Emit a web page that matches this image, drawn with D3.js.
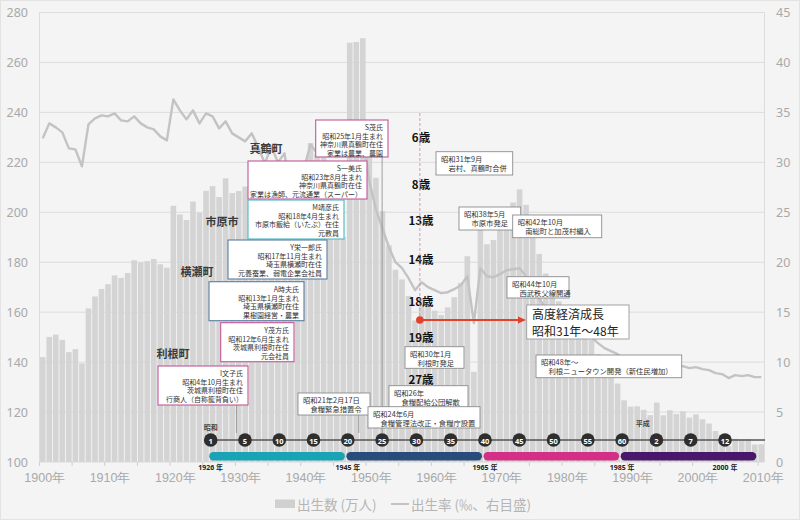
<!DOCTYPE html>
<html><head><meta charset="utf-8">
<script src="https://cdn.jsdelivr.net/npm/d3@7"></script>
<style>
html,body{margin:0;padding:0;background:#f4f4f4;}
svg{display:block;font-family:"Noto Sans","Noto Sans CJK JP",sans-serif;}
.jp{font-family:"Noto Sans CJK JP","Noto Sans",sans-serif;}
</style></head><body><svg id="c" width="800" height="520"></svg>
<script>
// ---------- data ----------
const years = d3.range(1900, 2011);
const births = [
 142.0,150.1,151.0,148.9,144.0,145.2,139.5,161.5,166.3,169.3,
 171.2,174.7,173.7,175.7,180.8,179.9,180.4,181.3,179.2,177.8,
 202.6,199.1,196.9,204.3,199.8,208.6,210.5,206.1,213.6,207.7,
 208.5,210.3,218.3,212.1,204.4,219.1,210.2,218.1,192.8,190.2,
 211.6,227.7,223.4,225.3,215.0,190.0,190.0,267.9,268.2,269.7,
 233.8,213.8,200.5,186.8,177.0,173.1,166.5,156.7,165.3,162.6,
 160.6,158.9,161.9,166.0,171.7,182.4,136.1,193.6,187.2,188.9,
 193.4,200.1,203.9,209.2,203.0,190.1,183.3,175.5,170.9,164.3,
 157.7,152.9,151.5,150.9,149.0,143.2,138.3,134.7,131.4,124.7,
 122.2,122.3,120.9,118.8,123.8,118.7,120.7,119.2,120.3,117.8,
 119.1,117.1,115.4,112.4,111.1,106.3,109.3,109.0,109.1,107.0,107.1];
const rates = [
 32.4,33.9,33.5,33.0,31.4,31.3,29.6,33.8,34.4,34.7,
 34.6,34.9,34.2,34.1,34.6,33.9,33.5,33.3,32.6,32.2,
 36.3,35.2,34.3,35.2,33.9,34.9,34.6,33.4,34.1,32.9,
 32.5,32.1,32.9,31.5,29.9,31.6,30.0,30.9,27.2,26.6,
 29.4,31.8,30.9,30.9,null,null,null,34.3,33.5,33.0,
 28.1,25.3,23.4,21.5,20.0,19.4,18.4,17.2,18.0,17.5,
 17.2,16.9,17.0,17.3,17.7,18.6,13.9,19.4,18.6,18.5,
 18.8,19.2,19.3,19.4,18.6,17.1,16.3,15.5,14.9,14.2,
 13.6,13.0,12.8,12.7,12.5,11.9,11.4,11.1,10.8,10.2,
 10.0,9.9,9.8,9.6,10.0,9.6,9.7,9.5,9.6,9.4,
 9.5,9.3,9.2,8.9,8.8,8.4,8.7,8.6,8.7,8.5,8.5];
const leftTicks = [100,120,140,160,180,200,220,240,260,280];
const rightTicks = [0,5,10,15,20,25,30,35,40,45];
const xLabelYears = [1900,1910,1920,1930,1940,1950,1960,1970,1980,1990,2000,2010];
const eraLabels = ["1","5","10","15","20","25","30","35","40","45","50","55","60","2","7","12"];
const eraYearLabels = ["1926 年","1945 年","1965 年","1985 年","2000 年"];
const legendBars = "出生数 (万人)";
const legendLine = "出生率 (‰、右目盛)";

// ---------- layout ----------
const svg = d3.select("#c");
const L = 39, R = 765, B = 462, T = 12.5;
svg.append("rect").attr("x",0.5).attr("y",0.5).attr("width",799).attr("height",519)
  .attr("fill","#f4f4f4").attr("stroke","#e3e3e3");

const x = d3.scaleBand().domain(years).range([L, R]).padding(0.14);
const bw = x.bandwidth();
const yL = d3.scaleLinear().domain([100,280]).range([B, T]);
const yR = d3.scaleLinear().domain([0,45]).range([B, T]);

// grid
svg.append("g").selectAll("line").data(leftTicks).join("line")
  .attr("x1",L).attr("x2",764).attr("y1",d=>yL(d)).attr("y2",d=>yL(d))
  .attr("stroke","#dcdcdc").attr("stroke-width",1);
svg.append("line").attr("x1",L+0.5).attr("x2",L+0.5).attr("y1",T).attr("y2",B).attr("stroke","#dcdcdc");
svg.append("line").attr("x1",764.5).attr("x2",764.5).attr("y1",T).attr("y2",B).attr("stroke","#dcdcdc");

// left axis
const gl = svg.append("g").attr("transform",`translate(${L},0)`)
  .call(d3.axisLeft(yL).tickValues(leftTicks).tickSize(0).tickPadding(11));
gl.select(".domain").remove();
gl.selectAll("text").attr("fill","#a9a9a9").attr("font-size","12.5px").attr("font-family","'Noto Sans',sans-serif");
// right axis
const gr = svg.append("g").attr("transform",`translate(764,0)`)
  .call(d3.axisRight(yR).tickValues(rightTicks).tickSize(0).tickPadding(12));
gr.select(".domain").remove();
gr.selectAll("text").attr("fill","#a9a9a9").attr("font-size","12.5px").attr("font-family","'Noto Sans',sans-serif");
// bottom axis
const gb = svg.append("g").attr("transform",`translate(2,${B})`)
  .call(d3.axisBottom(x).tickValues(xLabelYears).tickSize(0).tickPadding(11).tickFormat(d=>d+"年"));
gb.select(".domain").remove();
gb.selectAll("text").attr("fill","#a9a9a9").attr("font-size","12.5px");
const tickYears = years.filter(y=>y%5===0);
svg.append("g").selectAll("line").data(tickYears).join("line")
  .attr("x1",d=>x(d)-(x.step()-bw)/2).attr("x2",d=>x(d)-(x.step()-bw)/2)
  .attr("y1",B).attr("y2",B+4).attr("stroke","#cfcfcf");

// bars
svg.append("g").selectAll("rect").data(years.map((y,i)=>({y,v:births[i]}))).join("rect")
  .attr("x",d=>x(d.y)).attr("y",d=>yL(d.v)).attr("width",bw).attr("height",d=>B-yL(d.v))
  .attr("fill","#d4d4d4");

// line
const line = d3.line().defined(d=>d.r!=null).x(d=>x(d.y)+bw/2).y(d=>yR(d.r));
svg.append("path").datum(years.map((y,i)=>({y,r:rates[i]})))
  .attr("d",line).attr("fill","none").attr("stroke","#c3c3c3").attr("stroke-width",2.4)
  .attr("stroke-linejoin","round");

// ---------- timeline ----------
const TY = 440;
const tl = d3.scaleLinear().domain([0,15]).range([210.7,725]);
const showaIdx = n => n<5 ? (n-1)/4 : 1+(n-5)/5;

// connectors (behind boxes)
const connectors = [[showaIdx(4),405],[showaIdx(25),157],[showaIdx(21.6),415]];
svg.append("g").selectAll("line").data(connectors).join("line")
  .attr("x1",d=>tl(d[0])).attr("x2",d=>tl(d[0])).attr("y1",d=>d[1]).attr("y2",TY-7)
  .attr("stroke","#8a8a8a").attr("stroke-width",0.8);

// ---------- annotation boxes ----------
const PINK="#c4579a", BLUE="#5b7d9e", TEAL="#4db8c4";
const persons = [
 {b:[315.7,120,388,157], c:PINK, t:["S茂氏","昭和25年1月生まれ","神奈川県真鶴町在住","家業は農業、農園"]},
 {b:[248,161,367,199], c:PINK, t:["S一美氏","昭和23年8月生まれ","神奈川県真鶴町在住","家業は漁師、元流通業（スーパー）"]},
 {b:[248,200,344,239], c:TEAL, t:["M靖彦氏","昭和18年4月生まれ","市原市飯給（いたぶ）在住","元教員"]},
 {b:[228,240,327,279], c:BLUE, t:["Y栄一郎氏","昭和17年11月生まれ","埼玉県横瀬町在住","元養蚕業、弱電企業会社員"]},
 {b:[209,281.7,304,320.7], c:BLUE, t:["A時夫氏","昭和13年1月生まれ","埼玉県横瀬町在住","果樹園経営・農業"]},
 {b:[220.7,322.7,294,361.7], c:PINK, t:["Y茂方氏","昭和12年6月生まれ","茨城県利根町在住","元会社員"]},
 {b:[158,366,248,405], c:PINK, t:["I文子氏","昭和4年10月生まれ","茨城県利根町在住","行商人（自称籠背負い）"]}
];
const events = [
 {b:[436,151.7,512.7,175], t:["昭和31年9月","岩村、真鶴町合併"]},
 {b:[459,207,520.7,230], t:["昭和38年5月","市原市発足"]},
 {b:[512.7,215,601.7,237.7], t:["昭和42年10月","南総町と加茂村編入"]},
 {b:[507,276.7,569,298], t:["昭和44年10月","西武秩父線開通"]},
 {b:[536,355,681.7,377.7], t:["昭和48年～","利根ニュータウン開発（新住民増加）"]},
 {b:[405,346.7,464,368.3], t:["昭和30年1月","利根町発足"]},
 {b:[389,385.7,468,408], t:["昭和26年","食糧配給公団解散"]},
 {b:[298,393,370,415], t:["昭和21年2月17日","食糧緊急措置令"]},
 {b:[368,406.7,480,428], t:["昭和24年6月","食糧管理法改正・食糧庁設置"]}
];
const ga = svg.append("g").attr("class","jp");
persons.forEach(p=>{
  const [x0,y0,x1,y1]=p.b;
  ga.append("rect").attr("x",x0).attr("y",y0).attr("width",x1-x0).attr("height",y1-y0)
    .attr("fill","#fff").attr("stroke",p.c).attr("stroke-width",1.1);
  p.t.forEach((s,i)=>ga.append("text").attr("x",x1-5).attr("y",y0+7.4+i*8.5)
    .attr("dominant-baseline","central").attr("text-anchor","end")
    .attr("font-size","7px").attr("fill","#333").text(s));
});
events.forEach(e=>{
  const [x0,y0,x1,y1]=e.b;
  ga.append("rect").attr("x",x0).attr("y",y0).attr("width",x1-x0).attr("height",y1-y0)
    .attr("fill","#fff").attr("stroke","#8c8c8c").attr("stroke-width",0.9);
  e.t.forEach((s,i)=>ga.append("text").attr("x",x0+5+i*7.5).attr("y",y0+6.8+i*9.4)
    .attr("dominant-baseline","central").attr("font-size","7.3px").attr("fill","#333").text(s));
});

// regions
const regions = [["真鶴町",266,148],["市原市",222,221],["横瀬町",197,271],["利根町",173,353]];
ga.selectAll("text.reg").data(regions).join("text").attr("class","reg")
  .attr("x",d=>d[1]).attr("y",d=>d[2]).attr("text-anchor","middle").attr("dominant-baseline","central")
  .attr("font-size","11px").attr("font-weight","bold").attr("fill","#3a3a3a").text(d=>d[0]);

// dashed line, ages
const DX = tl(showaIdx(30.5));
svg.append("line").attr("x1",DX).attr("x2",DX).attr("y1",113).attr("y2",320)
  .attr("stroke","#d68bb8").attr("stroke-width",0.9).attr("stroke-dasharray","3,2");
const ages = [["6歳",137],["8歳",184],["13歳",220],["14歳",259],["18歳",301],["19歳",337],["27歳",379]];
ga.selectAll("text.age").data(ages).join("text").attr("class","age")
  .attr("x",421).attr("y",d=>d[1]).attr("text-anchor","middle").attr("dominant-baseline","central")
  .attr("font-size","11.5px").attr("font-weight","bold").attr("fill","#111").text(d=>d[0]);

// red arrow
svg.append("line").attr("x1",DX).attr("x2",518).attr("y1",320).attr("y2",320)
  .attr("stroke","#e2412b").attr("stroke-width",1.8);
svg.append("path").attr("d","M518,316.5 L526,320 L518,323.5 Z").attr("fill","#e2412b");
svg.append("circle").attr("cx",DX).attr("cy",320).attr("r",3.8).attr("fill","#e2412b");
ga.append("rect").attr("x",526.7).attr("y",305).attr("width",102.3).attr("height",34)
  .attr("fill","#fff").attr("stroke","#999").attr("stroke-width",0.9);
ga.append("text").attr("x",532).attr("y",313.6).attr("dominant-baseline","central")
  .attr("font-size","12px").attr("fill","#222").text("高度経済成長");
ga.append("text").attr("x",532).attr("y",330.6).attr("dominant-baseline","central")
  .attr("font-size","12px").attr("fill","#222").text("昭和31年～48年");

// timeline
svg.append("line").attr("x1",tl(0)).attr("x2",R).attr("y1",TY).attr("y2",TY)
  .attr("stroke","#555").attr("stroke-width",1.5);
const eraSpans = [[0,4,"#19a3b4"],[4,8,"#2a4c7b"],[8,12,"#d42f86"],[12,16,"#4b176a"]];
svg.append("g").selectAll("rect").data(eraSpans).join("rect")
  .attr("x",d=>tl(d[0])-1.5).attr("y",452).attr("width",d=>tl(d[1])-tl(d[0])-1.5).attr("height",8.5)
  .attr("rx",4.2).attr("fill",d=>d[2]);
const gc = svg.append("g");
gc.selectAll("circle").data(eraLabels).join("circle")
  .attr("cx",(d,i)=>tl(i)).attr("cy",TY).attr("r",6.8).attr("fill","#2e2e2e");
gc.selectAll("text").data(eraLabels).join("text")
  .attr("x",(d,i)=>tl(i)).attr("y",TY+0.5).attr("text-anchor","middle").attr("dominant-baseline","central")
  .attr("font-size","7.5px").attr("font-weight","bold").attr("fill","#fff").text(d=>d);
const eraYearIdx = [0,4,8,12,15];
svg.append("g").selectAll("text").data(eraYearLabels).join("text")
  .attr("x",(d,i)=>tl(eraYearIdx[i])).attr("y",467).attr("text-anchor","middle").attr("dominant-baseline","central")
  .attr("font-size","7px").attr("font-weight","bold").attr("fill","#222").text(d=>d);
ga.append("text").attr("x",tl(0)).attr("y",427).attr("text-anchor","middle").attr("dominant-baseline","central")
  .attr("font-size","7px").attr("font-weight","bold").attr("fill","#444").text("昭和");
ga.append("text").attr("x",tl(12.6)).attr("y",423).attr("text-anchor","middle").attr("dominant-baseline","central")
  .attr("font-size","7px").attr("font-weight","bold").attr("fill","#444").text("平成");

// legend
svg.append("rect").attr("x",275).attr("y",499.5).attr("width",20).attr("height",8.5).attr("fill","#d0d0d0");
svg.append("text").attr("class","jp").attr("x",297).attr("y",504).attr("dominant-baseline","central")
  .attr("font-size","13.5px").attr("fill","#b5b5b5").text(legendBars);
svg.append("line").attr("x1",391).attr("x2",409).attr("y1",504).attr("y2",504).attr("stroke","#c3c3c3").attr("stroke-width",2);
svg.append("text").attr("class","jp").attr("x",411).attr("y",504).attr("dominant-baseline","central")
  .attr("font-size","13.5px").attr("fill","#b5b5b5").text(legendLine);
</script></body></html>
